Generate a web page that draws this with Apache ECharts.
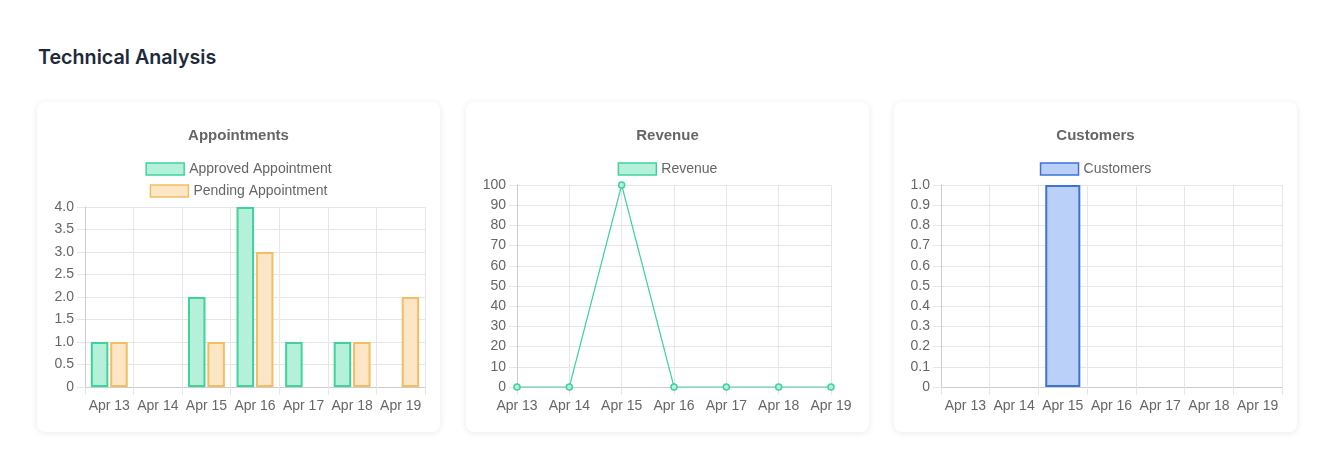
<!DOCTYPE html>
<html>
<head>
<meta charset="utf-8">
<script src="https://cdn.jsdelivr.net/npm/echarts@6/dist/echarts.min.js"></script>
<style>
  body { margin: 0; background: #fff; width: 1335px; height: 467px; position: relative; overflow: hidden; }
  h2 { position: absolute; left: 38px; top: 45px; margin: 0; font: 600 19.7px Inter, sans-serif; color: #1e293b; }
  .card { position: absolute; top: 102px; width: 403px; height: 330px; background: #fff; border-radius: 8px;
          box-shadow: 0 1px 7px rgba(15, 23, 42, 0.09); }
  .chart { width: 100%; height: 100%; }
</style>
</head>
<body>
<h2>Technical Analysis</h2>
<div class="card" style="left:37px"><div class="chart" id="appt"></div></div>
<div class="card" style="left:466px"><div class="chart" id="rev"></div></div>
<div class="card" style="left:894px"><div class="chart" id="cust"></div></div>
<script>
// data
const days = ["Apr 13", "Apr 14", "Apr 15", "Apr 16", "Apr 17", "Apr 18", "Apr 19"];
const approved = [1, 0, 2, 4, 1, 1, 0];
const pending = [1, 0, 1, 3, 0, 1, 2];
const revenue = [0, 0, 100, 0, 0, 0, 0];
const customers = [0, 0, 1, 0, 0, 0, 0];

const FONT = "'Liberation Sans', Arial, sans-serif";
const TXT = "#666";
const GRID = "#e6e6e6";
const green = { fill: "#b5f0da", line: "#3fd39b" };
const orange = { fill: "#fde6c6", line: "#f3bd62" };
const blue = { fill: "#bad0f8", line: "#3f72d8" };

// zero-height bars get no outline (chart.js style)
const bars = arr => arr.map(v => (v === 0 ? null : v));

function title(text) {
  return { text: text, left: "center", top: 21,
    textStyle: { fontFamily: FONT, fontSize: 15, fontWeight: "bold", color: TXT } };
}
function legendItem(name, c, top) {
  return { top: top, left: "center", itemWidth: 38, itemHeight: 12, itemGap: 10,
    textStyle: { fontFamily: FONT, fontSize: 14, color: TXT }, selectedMode: false,
    data: [{ name: name, icon: "rect", itemStyle: { color: c.fill, borderColor: c.line, borderWidth: 1.5 } }] };
}
function xCat(gap) {
  return { type: "category", data: days, boundaryGap: gap,
    axisLine: { lineStyle: { color: "#ccc" } },
    axisTick: { show: true, length: 8, alignWithLabel: !gap, lineStyle: { color: GRID } },
    axisLabel: { fontFamily: FONT, fontSize: 14, color: TXT, margin: 12, interval: 0 },
    splitLine: { show: true, lineStyle: { color: GRID } } };
}
function yVal(max, step, fmt) {
  return { type: "value", min: 0, max: max, interval: step,
    axisLine: { show: true, lineStyle: { color: "#ccc" } },
    axisTick: { show: true, length: 8, lineStyle: { color: GRID } },
    axisLabel: { fontFamily: FONT, fontSize: 14, color: TXT, margin: 11, formatter: fmt },
    splitLine: { lineStyle: { color: GRID } } };
}
const dec1 = v => v === 0 ? "0" : v.toFixed(1);

echarts.init(document.getElementById("appt")).setOption({
  animation: false,
  title: title("Appointments"),
  legend: [legendItem("Approved Appointment", green, 55), legendItem("Pending Appointment", orange, 77)],
  grid: { left: 48, right: 15, top: 105, bottom: 45 },
  xAxis: xCat(true),
  yAxis: yVal(4, 0.5, dec1),
  series: [
    { name: "Approved Appointment", type: "bar", data: bars(approved), barWidth: "36%", barGap: "11%",
      itemStyle: { color: green.fill, borderColor: green.line, borderWidth: 2 } },
    { name: "Pending Appointment", type: "bar", data: bars(pending), barWidth: "36%", barGap: "11%",
      itemStyle: { color: orange.fill, borderColor: orange.line, borderWidth: 2 } }
  ]
});

echarts.init(document.getElementById("rev")).setOption({
  animation: false,
  title: title("Revenue"),
  legend: legendItem("Revenue", green, 55),
  grid: { left: 51, right: 38, top: 83, bottom: 45 },
  xAxis: xCat(false),
  yAxis: yVal(100, 10, v => v),
  series: [
    { name: "Revenue", type: "line", data: revenue, symbol: "circle", symbolSize: 6,
      lineStyle: { color: green.line, width: 1.2 },
      itemStyle: { color: green.fill, borderColor: green.line, borderWidth: 1.5 } }
  ]
});

echarts.init(document.getElementById("cust")).setOption({
  animation: false,
  title: title("Customers"),
  legend: legendItem("Customers", blue, 55),
  grid: { left: 47, right: 15, top: 83, bottom: 45 },
  xAxis: xCat(true),
  yAxis: yVal(1, 0.1, dec1),
  series: [
    { name: "Customers", type: "bar", data: bars(customers), barWidth: "72%",
      itemStyle: { color: blue.fill, borderColor: blue.line, borderWidth: 2 } }
  ]
});
</script>
</body>
</html>
